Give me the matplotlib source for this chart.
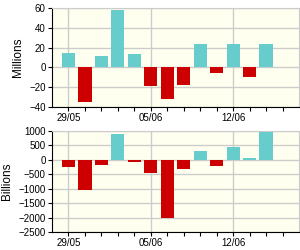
import matplotlib
matplotlib.use("Agg")
import matplotlib.pyplot as plt

# business days, 29/05 .. 15/06
days = ["29/05", "01/06", "02/06", "03/06", "04/06", "05/06", "08/06",
        "09/06", "10/06", "11/06", "12/06", "15/06", "16/06", "17/06"]
millions = [15, -35, 12, 58, 14, -19, -32, -18, 23.5, -6, 23.5, -10, 24]
billions = [-250, -1060, -190, 890, -60, -470, -2000, -330, 290, -205, 430, 80, 970]
shown_labels = {0: "29/05", 5: "05/06", 10: "12/06"}

teal = "#66CCCC"
red = "#CC0000"
bg = "#FFFFF0"
grid_col = "#CCCCCC"

plt.rcParams["font.family"] = ["Liberation Sans", "DejaVu Sans"]

fig = plt.figure(figsize=(3, 2.5), dpi=100)
ax1 = fig.add_axes([52 / 300, 1 - 107 / 250, 247 / 300, 99 / 250])
ax2 = fig.add_axes([52 / 300, 1 - 232 / 250, 247 / 300, 101 / 250])


def draw(ax, values, ylim, yticks, ylabel, labelpad):
    x = list(range(len(values)))
    colors = [teal if v >= 0 else red for v in values]
    ax.set_facecolor(bg)
    ax.bar(x, values, width=0.8, color=colors, zorder=3)
    ax.set_xlim(-1, 14)
    ax.set_ylim(*ylim)
    ax.set_yticks(yticks)
    ax.set_xticks(range(len(days)))
    ax.set_xticklabels([shown_labels.get(i, "") for i in range(len(days))])
    # vertical grid only at labelled weeks
    for i in shown_labels:
        ax.axvline(i, color=grid_col, lw=1, zorder=1)
    ax.yaxis.grid(True, color=grid_col, lw=1, zorder=1)
    ax.set_axisbelow(True)
    for s in ("top", "right"):
        ax.spines[s].set_color(grid_col)
    ax.spines["left"].set_color("black")
    ax.spines["bottom"].set_color("black")
    ax.tick_params(axis="both", labelsize=7, length=3, width=0.8, pad=1.5,
                   colors="black")
    ax.set_ylabel(ylabel, fontsize=8.5, labelpad=labelpad)


draw(ax1, millions, (-40, 60), range(-40, 61, 20), "Millions", 4)
draw(ax2, billions, (-2500, 1000), range(-2500, 1001, 500), "Billions", 4)

fig.savefig("out.png", dpi=100)
